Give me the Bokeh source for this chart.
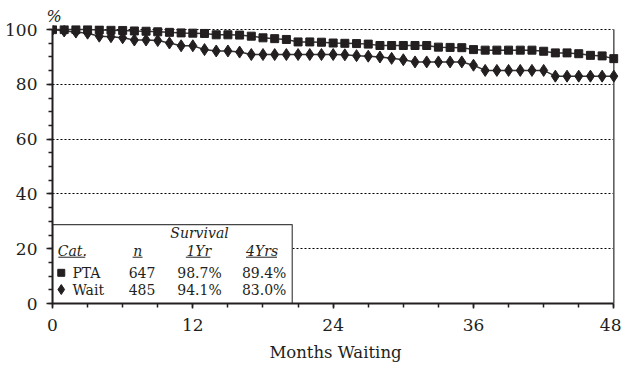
from bokeh.plotting import figure
from bokeh.models import FixedTicker, Range1d, ColumnDataSource
from bokeh.core.properties import value
from bokeh.embed import file_html
from bokeh.resources import INLINE

months = list(range(0, 49))
pta = [100, 100, 100, 100, 99.9, 99.8, 99.7, 99.5, 99.4, 99.2,
       99.0, 98.8, 98.7, 98.6, 98.1, 98.1, 98.0, 97.6, 97.0, 96.7,
       96.4, 95.5, 95.5, 95.4, 95.1, 95.0, 94.9, 94.7, 94.2, 94.2,
       94.2, 94.2, 94.2, 93.6, 93.5, 93.4, 92.7, 92.5, 92.5, 92.5,
       92.5, 92.5, 92.1, 91.5, 91.5, 91.2, 90.6, 90.4, 89.4]
wait = [100, 99.5, 99.1, 98.7, 97.6, 97.4, 97.0, 96.2, 96.2, 96.0,
        95.1, 94.1, 94.1, 92.7, 92.2, 92.2, 91.8, 90.9, 90.9, 90.9,
        90.9, 90.9, 90.9, 90.9, 90.9, 90.8, 90.5, 90.3, 90.0, 89.5,
        89.0, 88.2, 88.2, 88.2, 88.2, 88.2, 87.0, 85.1, 85.1, 85.1,
        85.1, 85.1, 85.1, 83.0, 83.0, 83.0, 83.0, 83.0, 83.0]

x_ticks = [0, 12, 24, 36, 48]
y_ticks = [0, 20, 40, 60, 80, 100]

cat_names = ["PTA", "Wait"]
cat_n = ["647", "485"]
surv_1yr = ["98.7%", "94.1%"]
surv_4yr = ["89.4%", "83.0%"]
headers = ["Cat.", "n", "1Yr", "4Yrs"]

FONT = "DejaVu Serif"
INK = "#231f20"

p = figure(width=621, height=367, output_backend="svg", toolbar_location=None,
           x_range=Range1d(0, 48.4), y_range=Range1d(0, 101.5),
           min_border_left=52, min_border_right=3, min_border_top=25,
           min_border_bottom=64)
p.outline_line_color = None
p.background_fill_color = "white"

p.title.text = "%"
p.title.text_font = FONT
p.title.text_font_size = "16px"
p.title.text_font_style = "italic"
p.title.align = "left"
p.title.offset = -6
p.title.standoff = 0
p.title.text_color = INK

# axes
p.xaxis.ticker = FixedTicker(ticks=x_ticks, minor_ticks=list(range(0, 49, 3)))
p.yaxis.ticker = FixedTicker(ticks=y_ticks, minor_ticks=list(range(0, 101, 5)))
for ax in (p.xaxis, p.yaxis):
    ax.axis_line_color = INK
    ax.axis_line_width = 2
    ax.major_tick_line_color = INK
    ax.minor_tick_line_color = INK
    ax.major_tick_line_width = 1.5
    ax.minor_tick_line_width = 1.5
    ax.major_label_text_font = FONT
    ax.major_label_text_font_size = "17px"
    ax.major_label_text_color = INK
    ax.major_tick_in = 0
    ax.minor_tick_in = 0
p.xaxis.major_tick_out = 5
p.xaxis.minor_tick_out = 4
p.xaxis.major_label_standoff = 10
p.yaxis.major_tick_out = 6
p.yaxis.minor_tick_out = 4
p.yaxis.major_label_standoff = 9
p.yaxis.bounds = (0, 100)
p.xaxis.bounds = (0, 48)
p.xaxis.axis_label = "Months Waiting"
p.xaxis.axis_label_text_font = FONT
p.xaxis.axis_label_text_font_size = "16.5px"
p.xaxis.axis_label_text_font_style = "normal"
p.xaxis.axis_label_text_color = INK
p.xaxis.axis_label_standoff = 9

p.xgrid.grid_line_color = None
p.ygrid.ticker = FixedTicker(ticks=y_ticks[1:])
p.ygrid.grid_line_color = "black"
p.ygrid.grid_line_width = 1
p.ygrid.grid_line_dash = "2 2"
p.ygrid.cross_bounds = (0, 48)

# right edge line
p.segment(x0=[x_ticks[-1]], y0=[y_ticks[0]], x1=[x_ticks[-1]], y1=[y_ticks[-1]],
          line_color="#555555", line_width=1.5)

src = ColumnDataSource(dict(m=months, pta=pta, wait=wait))
p.line("m", "wait", source=src, line_color="#333333", line_width=1.5)
p.scatter("m", "wait", source=src, marker="diamond", size=12,
          fill_color=INK, line_color=INK)
p.line("m", "pta", source=src, line_color="#333333", line_width=1.5)
p.scatter("m", "pta", source=src, marker="square", size=8,
          fill_color=INK, line_color=INK)

# legend table box
p.quad(left=[0], right=[20.5], bottom=[0], top=[28.8],
       fill_color="white", line_color="#444444", line_width=1.2)

tfont = value(FONT)
p.text(x=[12.57], y=[25.7], text=["Survival"], text_font=tfont,
       text_font_size="14px", text_font_style="italic",
       text_align="center", text_baseline="middle", text_color=INK)
p.text(x=[0.45, 6.9, 11.45, 16.55], y=[19.3] * 4, text=headers, text_font=tfont,
       text_font_size="14px", text_font_style="italic",
       text_align="left", text_baseline="middle", text_color=INK)
p.segment(x0=[0.5, 6.85, 11.4, 16.55], x1=[2.8, 7.7, 13.5, 19.2],
          y0=[16.9] * 4, y1=[16.9] * 4, line_color=INK, line_width=1)

row_y = [11.2, 5.1]
p.scatter(x=[0.75], y=[row_y[0]], marker="square", size=7, fill_color=INK, line_color=INK)
p.scatter(x=[0.75], y=[row_y[1]], marker="diamond", size=10, fill_color=INK, line_color=INK)
p.text(x=[1.7, 1.7], y=row_y, text=cat_names, text_font=tfont, text_font_size="14px",
       text_align="left", text_baseline="middle", text_color=INK)
p.text(x=[7.66, 7.66], y=row_y, text=cat_n, text_font=tfont, text_font_size="14px",
       text_align="center", text_baseline="middle", text_color=INK)
p.text(x=[12.57, 12.57], y=row_y, text=surv_1yr, text_font=tfont, text_font_size="14px",
       text_align="center", text_baseline="middle", text_color=INK)
p.text(x=[18.1, 18.1], y=row_y, text=surv_4yr, text_font=tfont, text_font_size="14px",
       text_align="center", text_baseline="middle", text_color=INK)

open("out.html", "w").write(file_html(p, INLINE))
